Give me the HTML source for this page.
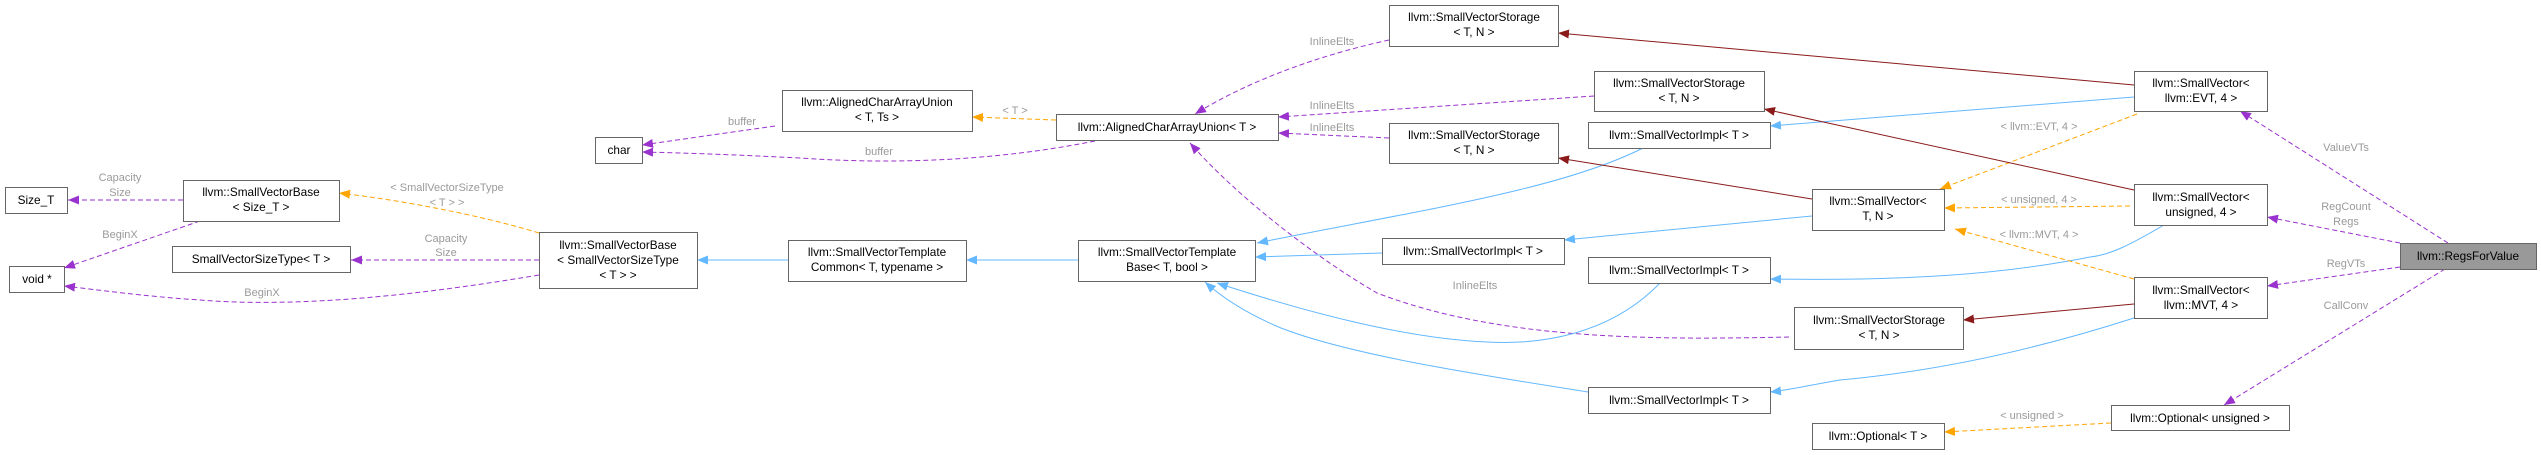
<!DOCTYPE html>
<html><head><meta charset="utf-8"><style>
html,body{margin:0;padding:0;background:#fff;}
svg{display:block;}
.n{fill:#fff;stroke:#666;stroke-width:1;}
.t{font-family:"Liberation Sans",Arial,sans-serif;font-size:11.8px;fill:#000;text-anchor:middle;}
.l{font-family:"Liberation Sans",Arial,sans-serif;font-size:11px;fill:#9a9a9a;text-anchor:middle;}
.p{fill:none;stroke:#9a32cd;stroke-dasharray:5,3;}
.o{fill:none;stroke:#ffa500;stroke-dasharray:5,3;}
.b{fill:none;stroke:#63b8ff;}
.r{fill:none;stroke:#8b1a1a;}
</style></head><body>
<svg width="2541" height="455" viewBox="0 0 2541 455" xmlns="http://www.w3.org/2000/svg">
<defs>
<marker id="mp" markerUnits="userSpaceOnUse" markerWidth="12" markerHeight="10" refX="11" refY="4.5" orient="auto"><path d="M0,0 L11,4.5 L0,9 z" fill="#9a32cd"/></marker>
<marker id="mo" markerUnits="userSpaceOnUse" markerWidth="12" markerHeight="10" refX="11" refY="4.5" orient="auto"><path d="M0,0 L11,4.5 L0,9 z" fill="#ffa500"/></marker>
<marker id="mb" markerUnits="userSpaceOnUse" markerWidth="12" markerHeight="10" refX="11" refY="4.5" orient="auto"><path d="M0,0 L11,4.5 L0,9 z" fill="#63b8ff"/></marker>
<marker id="mr" markerUnits="userSpaceOnUse" markerWidth="12" markerHeight="10" refX="11" refY="4.5" orient="auto"><path d="M0,0 L11,4.5 L0,9 z" fill="#8b1a1a"/></marker>
</defs>

<path class="p" marker-end="url(#mp)" d="M183,200 L68,200"/>
<path class="p" marker-end="url(#mp)" d="M200,221 L64,268"/>
<path class="o" marker-end="url(#mo)" d="M539,233 C480,215 400,200 339,193"/>
<path class="p" marker-end="url(#mp)" d="M539,260 L351,260"/>
<path class="p" marker-end="url(#mp)" d="M539,275 C420,295 300,308 200,300 C140,296 100,290 64,286"/>
<path class="b" marker-end="url(#mb)" d="M788,260 L697,260"/>
<path class="b" marker-end="url(#mb)" d="M1078,260 L966,260"/>
<path class="p" marker-end="url(#mp)" d="M775,126 L642,145"/>
<path class="p" marker-end="url(#mp)" d="M1095,141 C1000,160 900,165 800,158 C740,155 690,153 642,152"/>
<path class="o" marker-end="url(#mo)" d="M1056,120 L972,117"/>
<path class="p" marker-end="url(#mp)" d="M1389,40 C1320,55 1250,80 1195,114"/>
<path class="p" marker-end="url(#mp)" d="M1594,96 L1278,117"/>
<path class="p" marker-end="url(#mp)" d="M1389,138 L1278,133"/>
<path class="p" marker-end="url(#mp)" d="M1789,337 C1650,340 1500,340 1377,293 C1320,260 1240,200 1190,143"/>
<path class="b" marker-end="url(#mb)" d="M1643,148 C1560,190 1420,210 1257,243"/>
<path class="b" marker-end="url(#mb)" d="M1382,253 L1255,257"/>
<path class="b" marker-end="url(#mb)" d="M1660,283 C1610,335 1540,345 1487,342 C1400,338 1300,310 1217,283"/>
<path class="b" marker-end="url(#mb)" d="M1588,392 C1480,375 1350,355 1281,328 C1250,315 1225,300 1205,282"/>
<path class="r" marker-end="url(#mr)" d="M1812,199 L1558,158"/>
<path class="b" marker-end="url(#mb)" d="M1812,216 L1564,240"/>
<path class="r" marker-end="url(#mr)" d="M2134,85 L1558,33"/>
<path class="b" marker-end="url(#mb)" d="M2134,97 L1770,126"/>
<path class="o" marker-end="url(#mo)" d="M2137,114 L1940,189"/>
<path class="r" marker-end="url(#mr)" d="M2134,190 L1764,109"/>
<path class="o" marker-end="url(#mo)" d="M2130,206 L1944,208"/>
<path class="b" marker-end="url(#mb)" d="M2164,225 C2130,245 2110,255 2090,257 C2000,275 1900,281 1770,279"/>
<path class="o" marker-end="url(#mo)" d="M2134,279 L1955,229"/>
<path class="r" marker-end="url(#mr)" d="M2134,304 L1963,320"/>
<path class="b" marker-end="url(#mb)" d="M2134,318 C2050,345 1950,370 1840,380 C1810,385 1790,390 1770,392"/>
<path class="p" marker-end="url(#mp)" d="M2448,243 L2240,111"/>
<path class="p" marker-end="url(#mp)" d="M2400,243 L2267,217"/>
<path class="p" marker-end="url(#mp)" d="M2400,267 L2267,286"/>
<path class="p" marker-end="url(#mp)" d="M2445,269 L2224,405"/>
<path class="o" marker-end="url(#mo)" d="M2111,423 L1944,432"/>

<text class="l" x="120" y="181">Capacity</text><text class="l" x="120" y="196">Size</text>
<text class="l" x="120" y="238">BeginX</text>
<text class="l" x="447" y="191">&lt; SmallVectorSizeType</text><text class="l" x="447" y="206">&lt; T &gt; &gt;</text>
<text class="l" x="446" y="242">Capacity</text><text class="l" x="446" y="256">Size</text>
<text class="l" x="262" y="296">BeginX</text>
<text class="l" x="742" y="125">buffer</text>
<text class="l" x="879" y="155">buffer</text>
<text class="l" x="1015" y="114">&lt; T &gt;</text>
<text class="l" x="1332" y="45">InlineElts</text>
<text class="l" x="1332" y="109">InlineElts</text>
<text class="l" x="1332" y="131">InlineElts</text>
<text class="l" x="1475" y="289">InlineElts</text>
<text class="l" x="2039" y="130">&lt; llvm::EVT, 4 &gt;</text>
<text class="l" x="2039" y="203">&lt; unsigned, 4 &gt;</text>
<text class="l" x="2039" y="238">&lt; llvm::MVT, 4 &gt;</text>
<text class="l" x="2032" y="419">&lt; unsigned &gt;</text>
<text class="l" x="2346" y="151">ValueVTs</text>
<text class="l" x="2346" y="210">RegCount</text><text class="l" x="2346" y="225">Regs</text>
<text class="l" x="2346" y="267">RegVTs</text>
<text class="l" x="2346" y="309">CallConv</text>

<rect class="n" x="5.5" y="187.5" width="62" height="26"/><text class="t" x="36" y="204">Size_T</text>
<rect class="n" x="9.5" y="266.5" width="55" height="26"/><text class="t" x="37" y="283">void *</text>
<rect class="n" x="183.5" y="180.5" width="156" height="41"/><text class="t" x="261" y="196">llvm::SmallVectorBase</text><text class="t" x="261" y="211">&lt; Size_T &gt;</text>
<rect class="n" x="172.5" y="246.5" width="178" height="26"/><text class="t" x="261" y="263">SmallVectorSizeType&lt; T &gt;</text>
<rect class="n" x="539.5" y="232.5" width="158" height="56"/><text class="t" x="618" y="249">llvm::SmallVectorBase</text><text class="t" x="618" y="264">&lt; SmallVectorSizeType</text><text class="t" x="618" y="279">&lt; T &gt; &gt;</text>
<rect class="n" x="595.5" y="137.5" width="47" height="26"/><text class="t" x="619" y="154">char</text>
<rect class="n" x="782.5" y="90.5" width="190" height="41"/><text class="t" x="877" y="106">llvm::AlignedCharArrayUnion</text><text class="t" x="877" y="121">&lt; T, Ts &gt;</text>
<rect class="n" x="1056.5" y="114.5" width="222" height="26"/><text class="t" x="1167" y="131">llvm::AlignedCharArrayUnion&lt; T &gt;</text>
<rect class="n" x="788.5" y="240.5" width="178" height="41"/><text class="t" x="877" y="256">llvm::SmallVectorTemplate</text><text class="t" x="877" y="271">Common&lt; T, typename &gt;</text>
<rect class="n" x="1078.5" y="240.5" width="177" height="41"/><text class="t" x="1167" y="256">llvm::SmallVectorTemplate</text><text class="t" x="1167" y="271">Base&lt; T, bool &gt;</text>
<rect class="n" x="1389.5" y="5.5" width="169" height="41"/><text class="t" x="1474" y="21">llvm::SmallVectorStorage</text><text class="t" x="1474" y="36">&lt; T, N &gt;</text>
<rect class="n" x="1594.5" y="71.5" width="170" height="40"/><text class="t" x="1679" y="87">llvm::SmallVectorStorage</text><text class="t" x="1679" y="102">&lt; T, N &gt;</text>
<rect class="n" x="1588.5" y="122.5" width="182" height="26"/><text class="t" x="1679" y="139">llvm::SmallVectorImpl&lt; T &gt;</text>
<rect class="n" x="1389.5" y="123.5" width="169" height="40"/><text class="t" x="1474" y="139">llvm::SmallVectorStorage</text><text class="t" x="1474" y="154">&lt; T, N &gt;</text>
<rect class="n" x="1382.5" y="238.5" width="182" height="26"/><text class="t" x="1473" y="255">llvm::SmallVectorImpl&lt; T &gt;</text>
<rect class="n" x="1588.5" y="257.5" width="182" height="26"/><text class="t" x="1679" y="274">llvm::SmallVectorImpl&lt; T &gt;</text>
<rect class="n" x="1794.5" y="307.5" width="169" height="42"/><text class="t" x="1879" y="324">llvm::SmallVectorStorage</text><text class="t" x="1879" y="339">&lt; T, N &gt;</text>
<rect class="n" x="1588.5" y="387.5" width="182" height="26"/><text class="t" x="1679" y="404">llvm::SmallVectorImpl&lt; T &gt;</text>
<rect class="n" x="1812.5" y="189.5" width="132" height="41"/><text class="t" x="1878" y="205">llvm::SmallVector&lt;</text><text class="t" x="1878" y="220">T, N &gt;</text>
<rect class="n" x="1812.5" y="423.5" width="132" height="26"/><text class="t" x="1878" y="440">llvm::Optional&lt; T &gt;</text>
<rect class="n" x="2134.5" y="71.5" width="133" height="40"/><text class="t" x="2201" y="87">llvm::SmallVector&lt;</text><text class="t" x="2201" y="102">llvm::EVT, 4 &gt;</text>
<rect class="n" x="2134.5" y="184.5" width="133" height="41"/><text class="t" x="2201" y="201">llvm::SmallVector&lt;</text><text class="t" x="2201" y="216">unsigned, 4 &gt;</text>
<rect class="n" x="2134.5" y="277.5" width="133" height="41"/><text class="t" x="2201" y="294">llvm::SmallVector&lt;</text><text class="t" x="2201" y="309">llvm::MVT, 4 &gt;</text>
<rect class="n" x="2111.5" y="405.5" width="178" height="25"/><text class="t" x="2200" y="422">llvm::Optional&lt; unsigned &gt;</text>
<rect x="2400.5" y="243.5" width="136" height="26" fill="#999" stroke="#666"/><text class="t" x="2468" y="260">llvm::RegsForValue</text>
</svg>
</body></html>
